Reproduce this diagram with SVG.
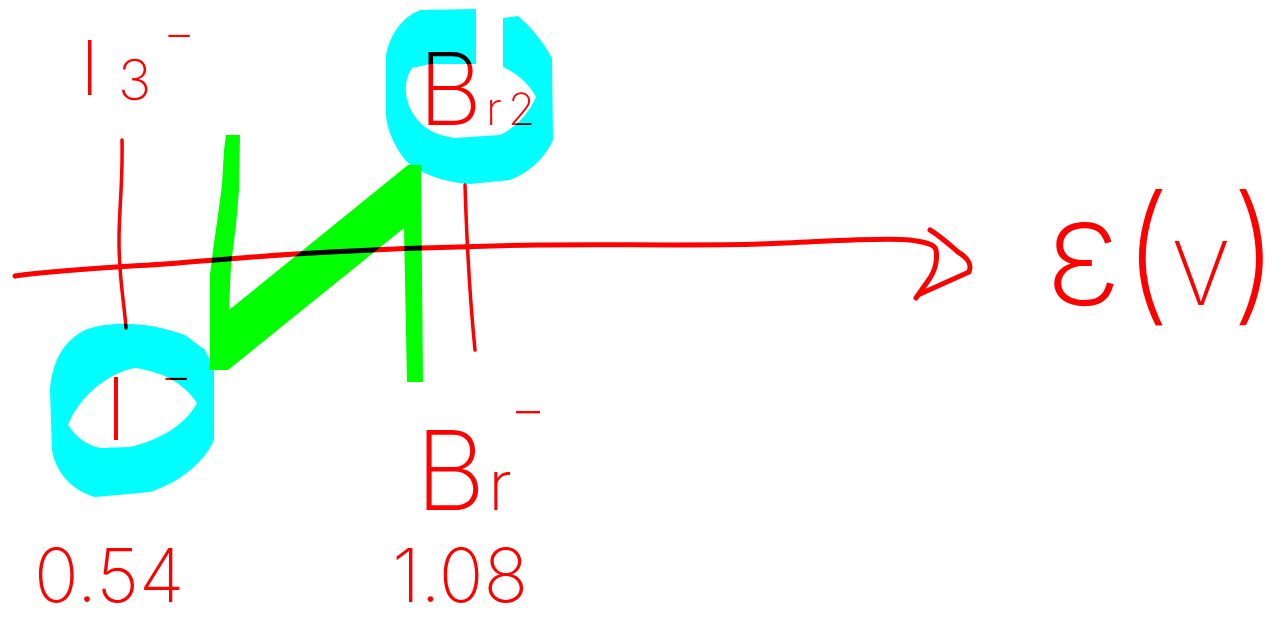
<svg xmlns="http://www.w3.org/2000/svg" width="1282" height="621" viewBox="0 0 1282 621">
<style>
.bg{fill:#fff}
.cyan{fill:#00FFFF;fill-rule:evenodd}
.green{fill:#00FF00}
.ink{mix-blend-mode:multiply}
.pen{fill:none;stroke:#FF0000;stroke-width:5;stroke-linecap:round;stroke-linejoin:round}
.thin{stroke-width:3.5}
text{font-family:Inter,"Liberation Sans",sans-serif;font-weight:200;fill:#FF0000}
</style>
<rect class="bg" x="0" y="0" width="1282" height="621"/>
<g id="fills">
  <path id="ring-left" class="cyan" d="M85,330 C110,320 150,322 185,335 L205,350 L214,370 L214,440 C205,460 185,480 150,492 L95,497 C70,490 55,470 52,450 L50,390 C52,360 65,340 85,330 Z M68,425 C80,395 110,372 135,368 C165,372 185,385 197,403 C185,425 160,440 130,447 L100,448 C85,445 75,435 68,425 Z"/>
  <path id="ring-right" class="cyan" d="M476,9 L476,64 L430,64 L412,68 C404,80 404,95 410,108 C418,125 432,135 455,138 L500,135 C515,128 528,115 536,97 C530,85 518,74 503,67 L503,18 L518,16 C530,26 542,40 552,58 L553,140 C545,158 530,172 510,180 L470,184 C440,182 418,172 405,160 C394,145 387,130 386,115 L386,55 C390,35 400,22 412,14 L420,10 Z"/>
  <path id="green-path" class="green" d="M226,135 L240,135 L239,190 L236,225 L231,265 L229,310 L408,165 L421,165 L423,382 L407,382 L404,228 L228,370 L210,370 L210,275 L213,250 L218,215 L222,185 L224,150 Z"/>
</g>
<g id="connectors" class="ink">
  <path id="axis" class="pen" d="M15,276 C60,270 100,268 150,265 S250,256 330,252 S480,246 540,245 S700,246 760,244 S880,237 910,240 C925,242 935,244 936,250 C938,262 935,270 930,278 L916,298"/>
  <path id="axis-head" class="pen" d="M930,230 C940,236 950,245 958,252 C968,258 972,264 969,272 L920,294"/>
  <path id="tick-I" class="pen thin" d="M122,140 C123,180 119,210 119,240 C119,280 124,300 126,328"/>
  <path id="tick-Br" class="pen thin" d="M465,185 C467,250 470,300 475,350"/>
</g>
<g class="ink">
  <g id="node-I3"><text y="95" font-size="76"><tspan x="80">I</tspan><tspan x="118" y="100" font-size="56">3</tspan><tspan x="163" y="50" font-size="50">−</tspan></text></g>
  <g id="node-Br2"><text y="125" font-size="100"><tspan x="418">B</tspan><tspan x="486" font-size="46">r</tspan><tspan x="508" font-size="44">2</tspan></text></g>
  <g id="node-I"><text y="440" font-size="86"><tspan x="105">I</tspan><tspan x="160" y="393" font-size="50">−</tspan></text></g>
  <g id="node-Br"><text y="510" font-size="110"><tspan x="415">B</tspan><tspan x="488" font-size="70">r</tspan><tspan x="510" y="428" font-size="56">−</tspan></text></g>
  <g id="label-054"><text x="34" y="602" font-size="74">0.54</text></g>
  <g id="label-108"><text x="392" y="602" font-size="74">1.08</text></g>
  <g id="label-axis"><text y="305" font-size="150"><tspan x="1045">ε</tspan><tspan x="1122">(</tspan><tspan x="1172" font-size="88">V</tspan><tspan x="1230">)</tspan></text></g>
</g>
</svg>
